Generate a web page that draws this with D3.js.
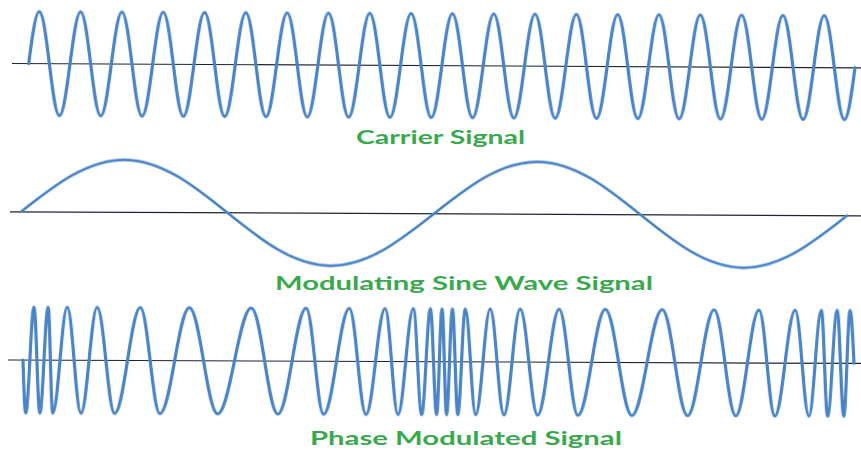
<!DOCTYPE html>
<html>
<head>
<meta charset="utf-8">
<script src="https://cdn.jsdelivr.net/npm/d3@7/dist/d3.min.js"></script>
<style>
  html, body { margin: 0; padding: 0; background: #ffffff; }
  svg { display: block; }
</style>
</head>
<body>
<svg id="chart" width="861" height="450"></svg>
<script>
// ---------- DATA (time in ms, amplitude in normalised units) ----------
// Carrier: crest / trough instants and zero-level endpoints
const carrierPeaks = [0.25, 1.25, 2.25, 3.25, 4.25, 5.25, 6.25, 7.25, 8.25, 9.25,
                      10.25, 11.25, 12.25, 13.25, 14.25, 15.25, 16.25, 17.25, 18.25, 19.25];
const carrierTroughs = [0.75, 1.75, 2.75, 3.75, 4.75, 5.75, 6.75, 7.75, 8.75, 9.75,
                        10.75, 11.75, 12.75, 13.75, 14.75, 15.75, 16.75, 17.75, 18.75, 19.75];
const carrierEnds = [0, 20];

// Modulating sine wave
const modPeaks = [2.5, 12.5];
const modTroughs = [7.5, 17.5];
const modEnds = [0, 20];

// Phase modulated signal
const pmPeaks = [0.26, 0.60, 1.06, 1.78, 2.82, 4.00, 5.49, 6.81, 7.85, 8.71, 9.39, 9.80,
                 10.08, 10.33, 10.64, 11.24, 11.96, 12.90, 14.01, 15.38, 16.63, 17.71,
                 18.58, 19.21, 19.59, 19.90];
const pmTroughs = [0.07, 0.41, 0.72, 1.40, 2.21, 3.30, 4.69, 6.14, 7.24, 8.26, 9.03, 9.60,
                   9.96, 10.20, 10.47, 10.90, 11.58, 12.39, 13.36, 14.66, 16.00, 17.16,
                   18.10, 18.92, 19.37, 19.76];
const pmEnds = [0, 20];

const titles = ["Carrier Signal", "Modulating Sine Wave Signal", "Phase Modulated Signal"];

// ---------- CURVE: sinusoidal arcs between extrema (cubic Bezier approx.) ----------
// Extrema get horizontal tangents; the first/last (zero-level) points get the
// tangent of a quarter sine wave.
function SineArc(context) { this._context = context; }
SineArc.prototype = {
  areaStart() { this._line = 0; },
  areaEnd() { this._line = NaN; },
  lineStart() { this._pts = []; },
  point(x, y) { this._pts.push([+x, +y]); },
  lineEnd() {
    const p = this._pts, ctx = this._context, n = p.length;
    if (!n) return;
    const C = 1 - 2 / Math.PI; // ~0.3634, half-cosine handle
    ctx.moveTo(p[0][0], p[0][1]);
    for (let i = 0; i < n - 1; i++) {
      const [x0, y0] = p[i], [x1, y1] = p[i + 1];
      const dx = x1 - x0, dy = y1 - y0;
      let c1x, c1y, c2x, c2y;
      if (i === 0) { c1x = x0 + (1 - C) / 2 * dx; c1y = y0 + 0.5 * dy; }
      else { c1x = x0 + C * dx; c1y = y0; }
      if (i + 1 === n - 1) { c2x = x1 - (1 - C) / 2 * dx; c2y = y1 - 0.5 * dy; }
      else { c2x = x1 - C * dx; c2y = y1; }
      ctx.bezierCurveTo(c1x, c1y, c2x, c2y, x1, y1);
    }
  }
};
const curveSineArc = ctx => new SineArc(ctx);

// ---------- LAYOUT ----------
const svg = d3.select("#chart");
const WAVE = "#4a84c6";
const GREEN = "#3aa94e";

const defs = svg.append("defs");
defs.append("filter").attr("id", "soft")
  .attr("x", "-2%").attr("y", "-5%").attr("width", "104%").attr("height", "110%")
  .append("feGaussianBlur").attr("stdDeviation", 0.35);

function buildSeries(peaks, troughs, ends) {
  return [
    ...ends.map(t => ({ t, v: 0 })),
    ...peaks.map(t => ({ t, v: 1 })),
    ...troughs.map(t => ({ t, v: -1 }))
  ].sort((a, b) => a.t - b.t);
}

const panels = [
  { series: buildSeries(carrierPeaks, carrierTroughs, carrierEnds),
    xr: [28.7, 855], axisY: 63.5, axisX0: 12, amp: 52, angle: 0.29, sw: 3.2,
    title: titles[0], tx: 356, tw: 169, ty: 144 },
  { series: buildSeries(modPeaks, modTroughs, modEnds),
    xr: [21, 847], axisY: 211.8, axisX0: 10, amp: 52.5, angle: 0.27, sw: 2.7,
    title: titles[1], tx: 275, tw: 378, ty: 290 },
  { series: buildSeries(pmPeaks, pmTroughs, pmEnds),
    xr: [23, 854], axisY: 360, axisX0: 8, amp: 53, angle: 0.23, sw: 3.2,
    title: titles[2], tx: 310, tw: 312, ty: 445 }
];

panels.forEach(p => {
  const x = d3.scaleLinear().domain([0, 20]).range(p.xr);
  const y = d3.scaleLinear().domain([-1, 1]).range([p.axisY + p.amp, p.axisY - p.amp]);

  const g = svg.append("g")
    .attr("transform", `rotate(${p.angle}, ${p.axisX0}, ${p.axisY})`);

  // zero axis
  g.append("line")
    .attr("x1", p.axisX0).attr("x2", 875)
    .attr("y1", y(0)).attr("y2", y(0))
    .attr("stroke", "#1e2433")
    .attr("stroke-width", 1.2);

  // wave
  const line = d3.line()
    .x(d => x(d.t))
    .y(d => y(d.v))
    .curve(curveSineArc);

  g.append("path")
    .datum(p.series)
    .attr("d", line)
    .attr("fill", "none")
    .attr("stroke", WAVE)
    .attr("stroke-width", p.sw)
    .attr("stroke-linejoin", "round")
    .attr("stroke-linecap", "round")
    .attr("filter", "url(#soft)");

  // caption
  svg.append("text")
    .attr("x", p.tx)
    .attr("y", p.ty)
    .attr("font-family", "Lato, 'Open Sans', sans-serif")
    .attr("font-weight", "bold")
    .attr("font-size", 19.5)
    .attr("fill", GREEN)
    .attr("textLength", p.tw)
    .attr("lengthAdjust", "spacingAndGlyphs")
    .text(p.title);
});
</script>
</body>
</html>
